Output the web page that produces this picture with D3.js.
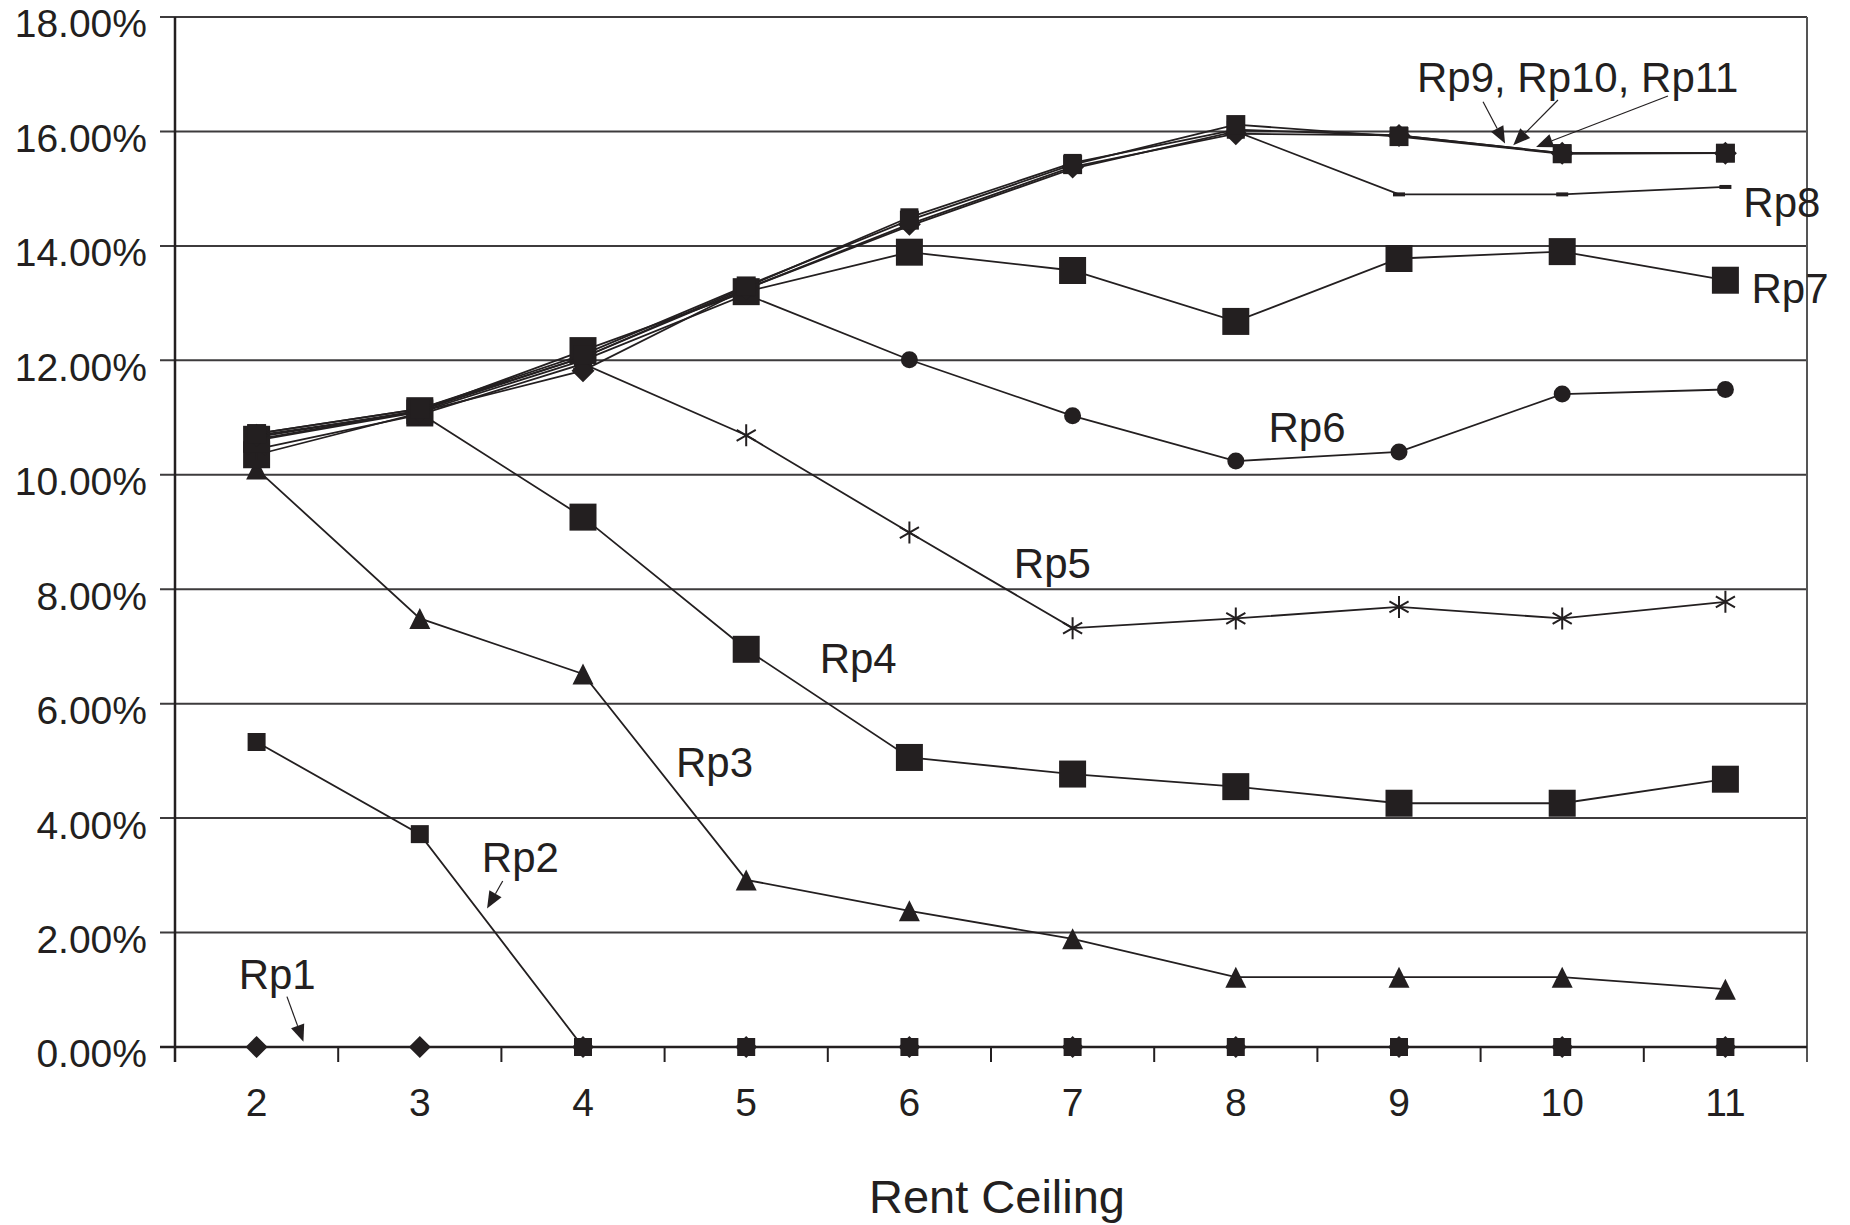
<!DOCTYPE html>
<html>
<head>
<meta charset="utf-8">
<style>
    body { margin: 0; background: #fff; }
    svg { display: block; font-family: 'Liberation Sans', Arial, sans-serif; }
</style>
</head>
<body>
<svg width="1850" height="1225"></svg>

<script src="https://d3js.org/d3.v7.min.js"></script>
<script>
    // categories and tick values
    let ceilings = [2, 3, 4, 5, 6, 7, 8, 9, 10, 11]
    let yTicks = [0, 2, 4, 6, 8, 10, 12, 14, 16, 18]

    // series values (percent)
    let rp1 = [0, 0, 0, 0, 0, 0, 0, 0, 0, 0]
    let rp2 = [5.33, 3.72, 0, 0, 0, 0, 0, 0, 0, 0]
    let rp3 = [10.1, 7.49, 6.52, 2.92, 2.38, 1.89, 1.22, 1.22, 1.22, 1.01]
    let rp4 = [10.35, 11.08, 9.26, 6.95, 5.06, 4.77, 4.55, 4.26, 4.26, 4.68]
    let rp5 = [10.45, 11.05, 11.94, 10.69, 8.99, 7.32, 7.49, 7.69, 7.49, 7.78]
    let rp6 = [10.6, 11.1, 12.0, 13.15, 12.01, 11.03, 10.24, 10.40, 11.41, 11.49]
    let rp7 = [10.62, 11.12, 12.17, 13.2, 13.89, 13.57, 12.68, 13.78, 13.90, 13.40]
    let rp8 = [10.66, 11.12, 12.05, 13.25, 14.35, 15.35, 16.0, 14.90, 14.90, 15.03]
    let rp9 = [10.69, 11.1, 11.82, 13.25, 14.38, 15.38, 15.96, 15.93, 15.62, 15.62]
    let rp10 = [10.72, 11.15, 12.1, 13.3, 14.45, 15.42, 16.12, 15.91, 15.61, 15.62]
    let rp11 = [10.72, 11.15, 12.05, 13.28, 14.5, 15.45, 16.03, 15.93, 15.62, 15.62]

    // labels: [text, category index, value at baseline]
    let labelText = ["Rp1", "Rp2", "Rp3", "Rp4", "Rp5", "Rp6", "Rp7", "Rp8", "Rp9, Rp10, Rp11"]
    let labelAt = [[-0.11, 1.01], [1.38, 3.06], [2.57, 4.71], [3.45, 6.54], [4.64, 8.20],
                   [6.20, 10.58], [9.16, 13.0], [9.11, 14.50], [7.11, 16.69]]
    // arrows: [from index, from value, to index, to value]
    let arrows = [[0.186, 0.88, 0.287, 0.09], [1.508, 2.90, 1.412, 2.42],
                  [7.515, 16.52, 7.65, 15.79], [7.974, 16.55, 7.70, 15.76], [8.648, 16.62, 7.84, 15.73]]

    let ink = "#231f20"

    let series = [
        { values: rp1, shape: "diamond", size: 22 },
        { values: rp2, shape: "square", size: 18 },
        { values: rp3, shape: "triangle", size: 21 },
        { values: rp4, shape: "square", size: 27 },
        { values: rp5, shape: "asterisk", size: 22 },
        { values: rp6, shape: "circle", size: 17 },
        { values: rp7, shape: "square", size: 27 },
        { values: rp8, shape: "dash", size: 12 },
        { values: rp11, shape: "square", size: 18 },
        { values: rp9, shape: "diamond", size: 23 },
        { values: rp10, shape: "square", size: 19 }
    ]

    let svg = d3.select("svg")
    let plotLeft = 175, plotRight = 1807, plotTop = 17, plotBottom = 1047

    let x = d3.scaleBand()
        .domain(ceilings)
        .range([plotLeft, plotRight])
    let bw = x.bandwidth()
    let cx = d => x(d) + bw / 2
    let xi = d3.scaleLinear().domain([0, ceilings.length - 1]).range([cx(ceilings[0]), cx(ceilings[ceilings.length - 1])])

    let y = d3.scaleLinear()
        .domain([0, 18])
        .range([plotBottom, plotTop])

    // gridlines
    svg.append("g")
        .selectAll("line")
        .data(yTicks)
        .join("line")
        .attr("x1", plotLeft - 15)
        .attr("x2", plotRight)
        .attr("y1", d => y(d))
        .attr("y2", d => y(d))
        .style("stroke", "#3d3b3c")
        .style("stroke-width", 2)

    // y axis
    let yAxis = svg.append("g")
        .attr("transform", `translate(${plotLeft},0)`)
        .call(d3.axisLeft(y).tickValues(yTicks).tickSize(15).tickPadding(13)
            .tickFormat(d => d.toFixed(2) + "%"))
    yAxis.select(".domain").remove()
    yAxis.selectAll(".tick line").remove()
    yAxis.selectAll("text")
        .attr("dy", "0.51em")
        .style("font-size", "39px")
        .style("font-family", "'Liberation Sans', Arial, sans-serif")
        .style("fill", ink)

    // x axis labels
    let xAxis = svg.append("g")
        .attr("transform", `translate(0,${plotBottom})`)
        .call(d3.axisBottom(x).tickSize(0).tickPadding(41))
    xAxis.select(".domain").remove()
    xAxis.selectAll("text")
        .style("font-size", "39px")
        .style("font-family", "'Liberation Sans', Arial, sans-serif")
        .style("fill", ink)

    // x ticks at band edges
    let edges = ceilings.map(d => x(d)).concat([plotRight])
    svg.append("g")
        .selectAll("line")
        .data(edges)
        .join("line")
        .attr("x1", d => d)
        .attr("x2", d => d)
        .attr("y1", plotBottom)
        .attr("y2", plotBottom + 15)
        .style("stroke", ink)
        .style("stroke-width", 2)

    // frame lines
    svg.append("line")
        .attr("x1", plotLeft).attr("x2", plotLeft)
        .attr("y1", plotTop).attr("y2", plotBottom + 15)
        .style("stroke", ink).style("stroke-width", 2.5)
    svg.append("line")
        .attr("x1", plotRight).attr("x2", plotRight)
        .attr("y1", plotTop).attr("y2", plotBottom + 15)
        .style("stroke", "#555").style("stroke-width", 2)
    svg.append("line")
        .attr("x1", plotLeft - 15).attr("x2", plotRight)
        .attr("y1", plotBottom).attr("y2", plotBottom)
        .style("stroke", ink).style("stroke-width", 2.5)

    // axis title
    svg.append("text")
        .attr("x", (plotLeft + plotRight) / 2 + 6)
        .attr("y", 1213)
        .attr("text-anchor", "middle")
        .style("font-size", "47px")
        .style("fill", ink)
        .text("Rent Ceiling")

    function shapePath(shape, s) {
        let h = s / 2
        if (shape == "square") return `M${-h},${-h}h${s}v${s}h${-s}Z`
        if (shape == "diamond") return `M0,${-h}L${h},0L0,${h}L${-h},0Z`
        if (shape == "triangle") return `M0,${-h}L${h},${h}L${-h},${h}Z`
        if (shape == "circle") return `M${-h},0a${h},${h} 0 1,0 ${s},0a${h},${h} 0 1,0 ${-s},0Z`
        if (shape == "dash") return `M${-h},-2h${s}v4h${-s}Z`
        if (shape == "asterisk") {
            let a = h * 0.87, b = h * 0.5
            return `M0,${-h}V${h}M${-a},${-b}L${a},${b}M${-a},${b}L${a},${-b}`
        }
    }

    let line = d3.line()
        .x((d, i) => cx(ceilings[i]))
        .y(d => y(d))

    series.forEach(s => {
        svg.append("path")
            .attr("d", line(s.values))
            .style("fill", "none")
            .style("stroke", ink)
            .style("stroke-width", 1.8)

        svg.append("g")
            .selectAll("path")
            .data(s.values)
            .join("path")
            .attr("transform", (d, i) => `translate(${cx(ceilings[i])},${y(d)})`)
            .attr("d", shapePath(s.shape, s.size))
            .style("fill", s.shape == "asterisk" ? "none" : ink)
            .style("stroke", ink)
            .style("stroke-width", s.shape == "asterisk" ? 2 : 0)
    })

    // annotation labels
    svg.append("g")
        .selectAll("text")
        .data(labelText)
        .join("text")
        .attr("x", (d, i) => xi(labelAt[i][0]))
        .attr("y", (d, i) => y(labelAt[i][1]))
        .style("font-size", "42px")
        .style("fill", ink)
        .text(d => d)

    // arrows with filled heads
    arrows.forEach(a => {
        let x1 = xi(a[0]), y1 = y(a[1]), x2 = xi(a[2]), y2 = y(a[3])
        let ang = Math.atan2(y2 - y1, x2 - x1)
        let len = 17, wid = 7
        let bx = x2 - len * Math.cos(ang), by = y2 - len * Math.sin(ang)
        svg.append("line")
            .attr("x1", x1).attr("y1", y1)
            .attr("x2", bx).attr("y2", by)
            .style("stroke", ink)
            .style("stroke-width", 1.2)
        let px = -Math.sin(ang) * wid, py = Math.cos(ang) * wid
        svg.append("path")
            .attr("d", `M${x2},${y2}L${bx + px},${by + py}L${bx - px},${by - py}Z`)
            .style("fill", ink)
    })
</script>
</body>
</html>
